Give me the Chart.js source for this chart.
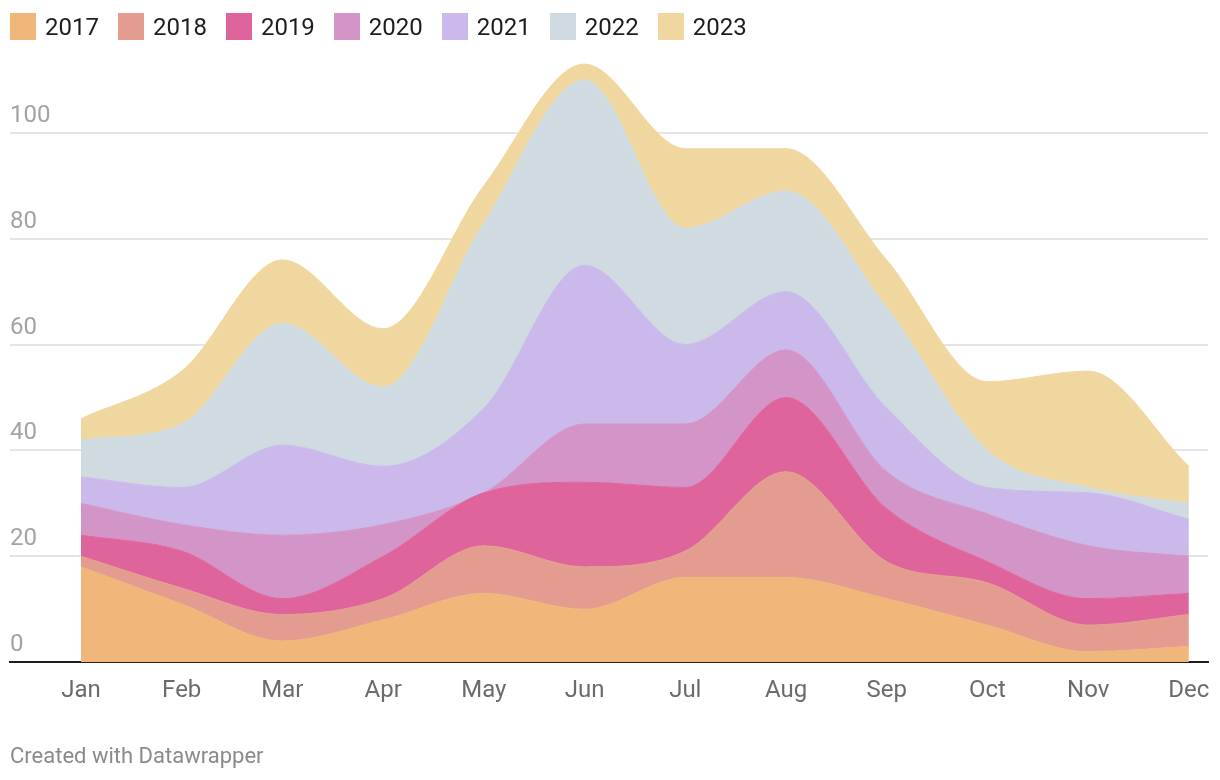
<!DOCTYPE html>
<html>
<head>
<meta charset="utf-8">
<script src="https://cdn.jsdelivr.net/npm/chart.js@4"></script>
<style>
  body { margin: 0; background: #fff; font-family: Roboto, sans-serif; }
  #wrap { position: relative; width: 1220px; height: 780px; }
  #chart { position: absolute; left: 0; top: 0; }
  #legend { position: absolute; left: 10px; top: 13px; display: flex; gap: 19px; }
  .item { display: flex; align-items: center; font-size: 24px; color: #1d1d1d; height: 27px; }
  .swatch { width: 26px; height: 27px; margin-right: 9px; }
  #footer { position: absolute; left: 10px; top: 743px; font-size: 22px; color: #8a8a8a; }
</style>
</head>
<body>
<div id="wrap">
  <canvas id="chart" width="1220" height="780"></canvas>
  <div id="legend"></div>
  <div id="footer">Created with Datawrapper</div>
</div>
<script>
  const months = ['Jan', 'Feb', 'Mar', 'Apr', 'May', 'Jun', 'Jul', 'Aug', 'Sep', 'Oct', 'Nov', 'Dec'];
  const years = ['2017', '2018', '2019', '2020', '2021', '2022', '2023'];
  const yTicks = [0, 20, 40, 60, 80, 100];

  // values per year (stacked on top of each other)
  const v2017 = [18, 11, 4, 8, 13, 10, 16, 16, 12, 7, 2, 3];
  const v2018 = [2, 3, 5, 4, 9, 8, 5, 20, 7, 8, 5, 6];
  const v2019 = [4, 7, 3, 8, 10, 16, 12, 14, 10, 4, 5, 4];
  const v2020 = [6, 5, 12, 6, 0, 11, 12, 9, 7, 9, 10, 7];
  const v2021 = [5, 7, 17, 11, 16, 30, 15, 11, 12, 5, 10, 7];
  const v2022 = [7, 12, 23, 15, 35, 35, 22, 19, 19, 7, 1, 3];
  const v2023 = [4, 10, 12, 11, 7, 3, 15, 8, 9, 13, 22, 7];

  const colors = ['#f0b67a', '#e49c90', '#e0649c', '#d394c8', '#cbb9ec', '#cfdae1', '#f0d79f'];
  const seriesValues = [v2017, v2018, v2019, v2020, v2021, v2022, v2023];

  // legend
  const legend = document.getElementById('legend');
  years.forEach((yr, i) => {
    const item = document.createElement('div');
    item.className = 'item';
    item.innerHTML = '<div class="swatch" style="background:' + colors[i] + '"></div>' + yr;
    legend.appendChild(item);
  });

  const datasets = years.map((yr, i) => ({
    label: yr,
    data: seriesValues[i].map((v, j) => ({ x: j, y: v })),
    backgroundColor: colors[i],
    borderColor: colors[i],
    borderWidth: 1,
    fill: i === 0 ? 'origin' : '-1',
    cubicInterpolationMode: 'monotone',
    pointRadius: 0,
    pointHoverRadius: 0
  }));

  const ctx = document.getElementById('chart').getContext('2d');
  new Chart(ctx, {
    type: 'line',
    data: { datasets },
    options: {
      responsive: false,
      devicePixelRatio: 1,
      animation: false,
      layout: { padding: { left: 10, right: 12, top: 27, bottom: 69 } },
      plugins: {
        legend: { display: false },
        tooltip: { enabled: false }
      },
      scales: {
        x: {
          type: 'linear',
          min: -0.705,
          max: 11.19,
          z: 1,
          grid: { display: false },
          border: { display: true, color: '#1d1d1d', width: 2 },
          afterBuildTicks: scale => { scale.ticks = months.map((m, i) => ({ value: i })); },
          ticks: {
            autoSkip: false,
            maxRotation: 0,
            padding: 6,
            color: '#6b6b6b',
            font: { family: 'Roboto', size: 24 },
            callback: value => months[value]
          }
        },
        y: {
          stacked: true,
          min: 0,
          max: 120,
          z: 1,
          border: { display: false },
          grid: { color: 'rgba(0,0,0,0.1)', lineWidth: 2, drawTicks: false },
          afterBuildTicks: scale => { scale.ticks = yTicks.map(v => ({ value: v })); },
          ticks: {
            mirror: true,
            padding: 0,
            labelOffset: -17,
            color: '#a3a3a3',
            font: { family: 'Roboto', size: 24 }
          }
        }
      }
    }
  });
</script>
</body>
</html>
